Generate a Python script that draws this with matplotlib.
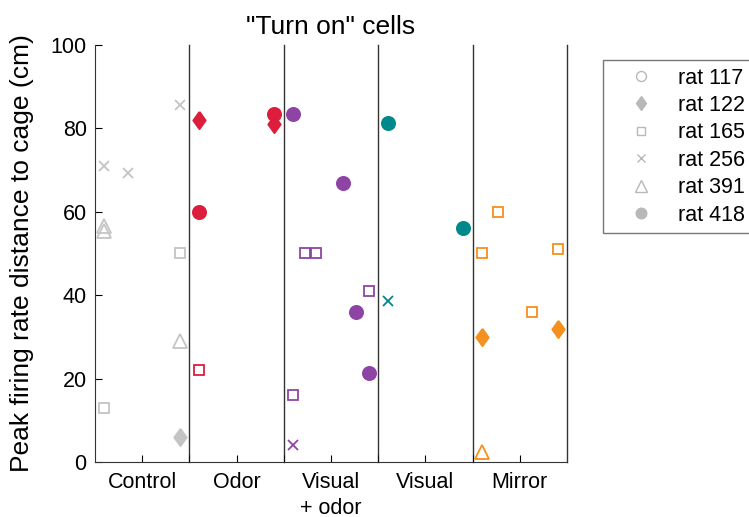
import numpy as np
import matplotlib.pyplot as plt
from matplotlib.lines import Line2D

plt.rcParams['font.family'] = ['Liberation Sans', 'DejaVu Sans']

conditions = ['Control', 'Odor', 'Visual\n+ odor', 'Visual', 'Mirror']
cond_colors = ['#c4c4c4', '#dc1e3c', '#8e44a4', '#00898a', '#f5901e']

rats = [117, 122, 165, 256, 391, 418]
diamond = [(0, 1), (0.72, 0), (0, -1), (-0.72, 0), (0, 1)]
rat_markers = {117: 'o', 122: diamond, 165: 's', 256: 'x', 391: '^', 418: 'o'}
rat_filled = {117: False, 122: True, 165: False, 256: True, 391: False, 418: True}
rat_size = {117: 9, 122: 12.5, 165: 7, 256: 7, 391: 10, 418: 9.5}

# offset within the condition slot (0..1), peak distance (cm)
ctrl_rat = [256, 256, 256, 391, 391, 165, 391, 165, 122]
ctrl_x = [0.9, 0.1, 0.35, 0.1, 0.1, 0.9, 0.9, 0.1, 0.9]
ctrl_y = [85.5, 71, 69.2, 55.5, 56.5, 50, 29, 13, 6]

odor_rat = [122, 418, 418, 122, 165]
odor_x = [0.1, 0.1, 0.9, 0.9, 0.1]
odor_y = [82, 60, 83.4, 81, 22]

visodor_rat = [418, 418, 165, 165, 165, 418, 418, 165, 256]
visodor_x = [0.1, 0.63, 0.23, 0.34, 0.9, 0.77, 0.9, 0.1, 0.1]
visodor_y = [83.4, 66.8, 50, 50, 41, 36, 21.3, 16, 4]

vis_rat = [418, 418, 256]
vis_x = [0.1, 0.9, 0.1]
vis_y = [81.2, 56, 38.7]

mirror_rat = [165, 165, 165, 165, 122, 122, 391]
mirror_x = [0.27, 0.1, 0.9, 0.63, 0.1, 0.9, 0.1]
mirror_y = [60, 50, 51, 36, 30, 32, 2.5]

groups = [(ctrl_rat, ctrl_x, ctrl_y), (odor_rat, odor_x, odor_y),
          (visodor_rat, visodor_x, visodor_y), (vis_rat, vis_x, vis_y),
          (mirror_rat, mirror_x, mirror_y)]

fig = plt.figure(figsize=(7.49, 5.17), dpi=100)
ax = fig.add_axes([0.1268, 0.1064, 0.6302, 0.8066])

for g, (r, xs, ys) in enumerate(groups):
    col = cond_colors[g]
    for rat, x, y in zip(r, xs, ys):
        m = rat_markers[rat]
        fc = col if rat_filled[rat] else 'none'
        ax.plot(g + x, y, linestyle='none', marker=m, markersize=rat_size[rat],
                markerfacecolor=fc, markeredgecolor=col, markeredgewidth=1.3,
                clip_on=False, zorder=3)

for b in range(1, 6):
    ax.axvline(b, color='#333333', lw=1.0, zorder=1, clip_on=False)

ax.set_xlim(0, 5)
ax.set_ylim(0, 100)
ax.set_xticks(np.arange(len(conditions)) + 0.5)
ax.set_xticklabels(conditions, fontsize=15.5, linespacing=1.3)
ax.set_xticks(np.arange(1, 5), minor=True)
ax.set_yticks(np.arange(0, 101, 20))
ax.tick_params(axis='both', which='both', direction='in', labelsize=15.5, length=5)
ax.tick_params(axis='x', pad=7)
ax.tick_params(axis='y', pad=6)
ax.spines['top'].set_visible(False)
ax.spines['right'].set_visible(False)
for s in ['left', 'bottom']:
    ax.spines[s].set_color('#333333')
ax.set_ylabel('Peak firing rate distance to cage (cm)', fontsize=19, labelpad=12)
ax.set_title('"Turn on" cells', fontsize=19, pad=8)

handles = []
for rat in rats:
    fc = '#b8b8b8' if rat_filled[rat] else 'none'
    handles.append(Line2D([0], [0], linestyle='none', marker=rat_markers[rat],
                          markersize=rat_size[rat] * 0.8, markerfacecolor=fc,
                          markeredgecolor='#b8b8b8', markeredgewidth=1.0))
leg = fig.legend(handles, ['rat %d' % r for r in rats], loc='upper left',
                 bbox_to_anchor=(603 / 749, 1 - 60 / 517), fontsize=15.5,
                 frameon=True, fancybox=False, edgecolor='#555555',
                 borderaxespad=0, handletextpad=0.35, handlelength=2.8,
                 borderpad=0.35, labelspacing=0.3)
leg.get_frame().set_linewidth(1.0)

fig.savefig('out.png', dpi=100)
